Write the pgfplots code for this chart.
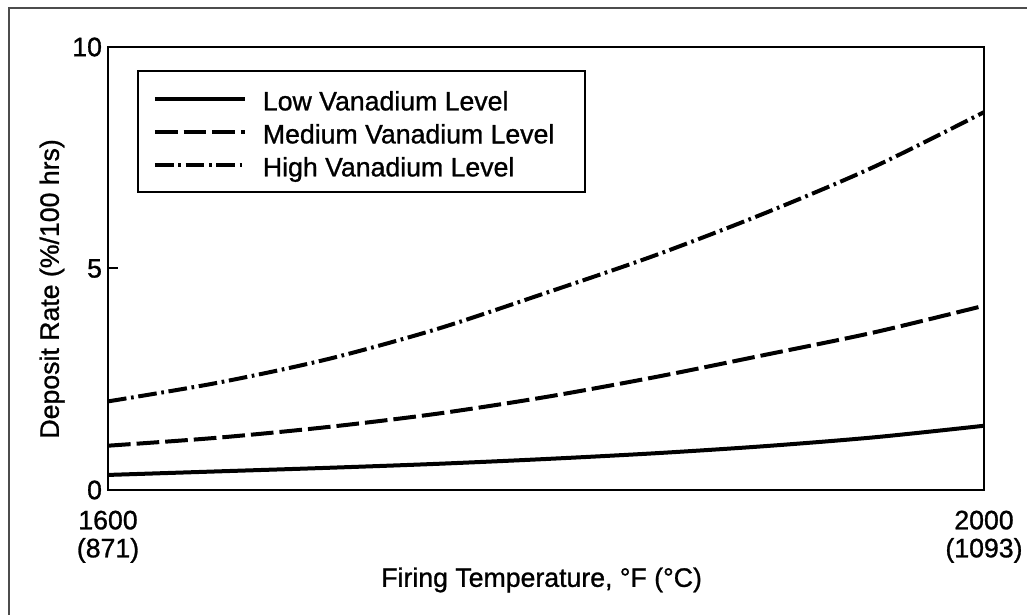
\documentclass[border=0pt]{standalone}
\usepackage{fontspec}
\setmainfont{Liberation Sans}[FakeBold=1]
\usepackage{pgfplots}
\pgfplotsset{compat=1.18}
\begin{document}
\begin{tikzpicture}
\useasboundingbox (0,0) rectangle (770.25pt,460.5pt);
\fill[white] (0,0) rectangle (770.25pt,460.5pt);
\draw[line width=1.5pt, black!70] (6.75pt,-2pt) -- (6.75pt,454.5pt) -- (772pt,454.5pt);
\begin{axis}[
  at={(81pt,93pt)}, anchor=south west,
  scale only axis, width=657pt, height=332.25pt,
  xmin=1600, xmax=2000, ymin=0, ymax=10,
  axis line style={line width=2pt},
  font=\fontsize{20}{21}\selectfont,
  /pgf/number format/assume math mode=true,
  ytick={0,5,10}, yticklabels={0,5,10},
  xtick={1600,2000}, xticklabels={{1600\\(871)},{2000\\(1093)}},
  xticklabel style={align=center, yshift=-12pt},
  yticklabel style={xshift=-1pt},
  ytick pos=left, xtick pos=bottom,
  tick align=inside, major tick length=7.5pt,
  tick style={line width=1.5pt, black},
  xlabel={Firing Temperature, °F (°C)},
  ylabel={Deposit Rate (\%/100 hrs)},
  xlabel style={at={(axis description cs:0.495,-0.203)}, anchor=center},
  ylabel style={at={(axis description cs:-0.064,0.454)}, anchor=center},
  legend cell align=left,
  legend style={at={(0.033,0.948)}, anchor=north west, draw=black, line width=1.5pt,
    inner xsep=11.25pt, inner ysep=10.5pt, row sep=4.25pt, column sep=12pt,
    nodes={inner sep=0pt},
    font=\fontsize{20}{21}\selectfont},
  legend image code/.code={\draw[#1, line width=3pt] (0pt,0pt) -- (67.5pt,0pt);},
]
\addplot[black, line width=3pt, smooth] coordinates {
 (1600,0.34) (1650,0.42) (1700,0.50) (1750,0.59) (1800,0.70) (1850,0.83) (1900,0.99) (1950,1.19) (2000,1.45)};
\addlegendentry{\rule[-4pt]{0pt}{23pt}Low Vanadium Level}
\addplot[black, line width=3pt, smooth, dash pattern=on 17pt off 4.5pt] coordinates {
 (1600,1.00) (1650,1.18) (1700,1.42) (1750,1.72) (1800,2.10) (1850,2.55) (1900,3.05) (1950,3.56) (2000,4.16)};
\addlegendentry{\rule[-4pt]{0pt}{23pt}Medium Vanadium Level\hspace*{11.75pt}}
\addplot[black, line width=3pt, smooth, dash pattern=on 14pt off 3.5pt on 2pt off 3.5pt] coordinates {
 (1600,2.00) (1650,2.42) (1700,2.95) (1750,3.63) (1800,4.45) (1850,5.30) (1900,6.25) (1950,7.30) (2000,8.53)};
\addlegendentry{\rule[-4pt]{0pt}{23pt}High Vanadium Level}
\end{axis}
\end{tikzpicture}
\end{document}
